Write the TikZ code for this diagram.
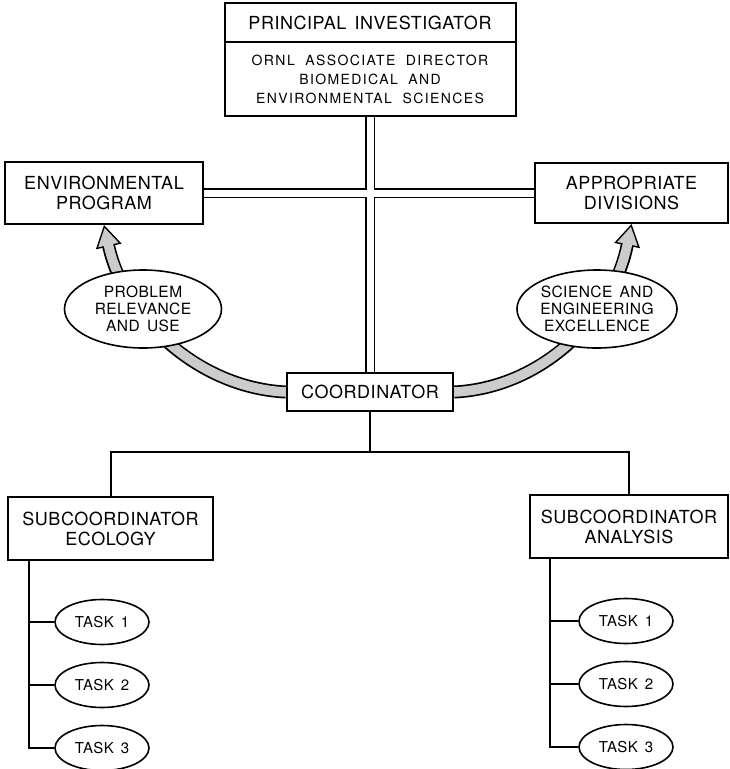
\documentclass[tikz,border=0pt]{standalone}
\usepackage{fontspec}
\setmainfont{TeX Gyre Heros}
\newfontfamily\lettering[LetterSpace=3,WordSpace=1.5]{TeX Gyre Heros}
\newfontfamily\widelettering[LetterSpace=10,WordSpace=2]{TeX Gyre Heros}
\usetikzlibrary{shapes.geometric,arrows.meta,calc,backgrounds}

\begin{document}
\begin{tikzpicture}[x=1pt,y=-1pt,
   box/.style={draw,line width=2pt,fill=white,rectangle,inner sep=0pt,align=center,
      font=\lettering\fontsize{18}{20}\selectfont},
   oval/.style={draw,line width=1.6pt,fill=white,ellipse,inner sep=0pt,align=center,
      font=\lettering\fontsize{15.5}{17}\selectfont},
   task/.style={oval,minimum width=94pt,minimum height=45pt,
      font=\lettering\fontsize{15}{17}\selectfont},
   link/.style={line width=2pt},
   pipe/.style={line width=1.6pt,double=white,double distance=7pt},
   band/.style={line width=13pt,-{Triangle[width=26pt,length=22pt,line width=1.4pt,fill=gray!40]}},
   bandfill/.style={line width=9.6pt,gray!40,shorten >=20pt}]
   \useasboundingbox (0,0) rectangle (730,769);
   %top
   \node[box,minimum width=291pt,minimum height=39pt] (pi) at (370,22.5) {PRINCIPAL INVESTIGATOR};
   \node[box,minimum width=291pt,minimum height=74pt,
      font=\widelettering\fontsize{14}{19}\selectfont] (ornl) at (370,79)
      {ORNL ASSOCIATE DIRECTOR\\BIOMEDICAL AND\\ENVIRONMENTAL SCIENCES};
   \node[box,minimum width=198pt,minimum height=62pt] (envp) at (104,193) {ENVIRONMENTAL\\PROGRAM};
   \node[box,minimum width=193pt,minimum height=60pt] (app) at (631.5,193) {APPROPRIATE\\DIVISIONS};
   \node[box,minimum width=166pt,minimum height=38pt] (coord) at (370,392) {COORDINATOR};
   %ovals
   \node[oval,minimum width=157pt,minimum height=78pt] (pru) at (143,309) {PROBLEM\\RELEVANCE\\AND USE};
   \node[oval,minimum width=157pt,minimum height=78pt] (see) at (597,309) {SCIENCE AND\\ENGINEERING\\EXCELLENCE};
   %pipes and bands
   \begin{pgfonlayer}{background}
      \draw[pipe] (ornl.south) -- (coord.north) (envp.east) -- (app.west);
      \draw[band] (coord.west) .. controls (200,388) and (125,320) .. (envp.south);
      \draw[bandfill] (coord.west) .. controls (200,388) and (125,320) .. (envp.south);
      \draw[band] (coord.east) .. controls (540,388) and (612,320) .. (app.south);
      \draw[bandfill] (coord.east) .. controls (540,388) and (612,320) .. (app.south);
   \end{pgfonlayer}
   %subcoordinators
   \node[box,minimum width=205pt,minimum height=63pt] (eco) at (110.5,528.5) {SUBCOORDINATOR\\ECOLOGY};
   \node[box,minimum width=198pt,minimum height=63pt] (ana) at (629,526.5) {SUBCOORDINATOR\\ANALYSIS};
   \coordinate (split) at (370,452);
   \draw[link] (coord.south) -- (split);
   \draw[link] (eco.north) |- (split) -| (ana.north);
   %tasks
   \node[task] (et1) at (102,622) {TASK 1};
   \node[task] (et2) at (102,685) {TASK 2};
   \node[task] (et3) at (102,748) {TASK 3};
   \node[task] (at1) at (626,621) {TASK 1};
   \node[task] (at2) at (626,684) {TASK 2};
   \node[task] (at3) at (626,747) {TASK 3};
   \coordinate (ecospine) at ($(eco.south west)+(22,0)$);
   \coordinate (anaspine) at ($(ana.south west)+(21,0)$);
   \draw[link] (ecospine) |- (et3.west);
   \draw[link] (anaspine) |- (at3.west);
   \foreach \t in {et1,et2} \draw[link] (\t.west -| ecospine) -- (\t.west);
   \foreach \t in {at1,at2} \draw[link] (\t.west -| anaspine) -- (\t.west);
\end{tikzpicture}
\end{document}
